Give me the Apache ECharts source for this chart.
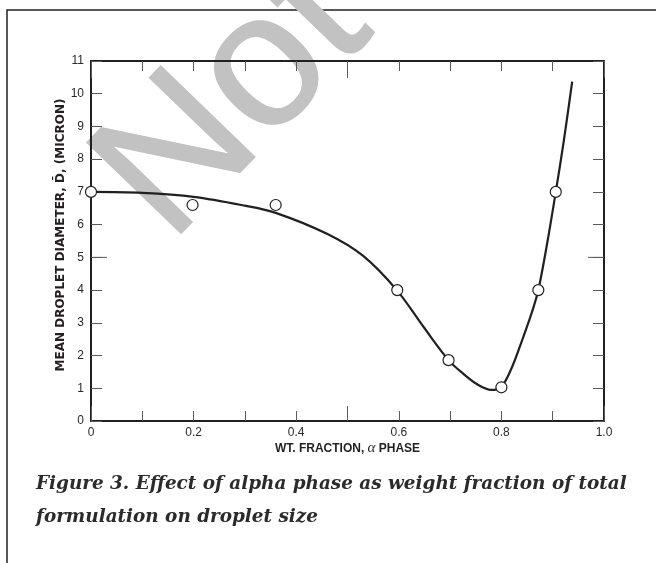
<!DOCTYPE html>
<html>
<head>
<meta charset="utf-8">
<script src="https://cdn.jsdelivr.net/npm/echarts@6/dist/echarts.min.js"></script>
<style>
html,body{margin:0;padding:0;background:#fff;}
#chart{width:656px;height:563px;}
</style>
</head>
<body>
<div id="chart"></div>
<script>
// Measured data points (open circles)
var pointX = [0, 0.198, 0.36, 0.597, 0.697, 0.8, 0.872, 0.906];
var pointY = [7.0, 6.6, 6.6, 4.0, 1.86, 1.03, 4.0, 7.0];
// Fitted curve
var curveX = [0, 0.1, 0.2, 0.3, 0.36, 0.46, 0.53, 0.596, 0.648, 0.697, 0.726, 0.755, 0.78, 0.8, 0.82, 0.84, 0.86, 0.872, 0.89, 0.906, 0.922, 0.938];
var curveY = [7.0, 6.97, 6.85, 6.58, 6.36, 5.72, 5.05, 4.0, 2.88, 1.86, 1.44, 1.1, 0.95, 1.05, 1.62, 2.45, 3.35, 4.0, 5.5, 7.0, 8.6, 10.37];
// Axis ticks
var xLabelValues = [0, 0.2, 0.4, 0.6, 0.8, 1.0];
var xTickLabels = ['0', '0.2', '0.4', '0.6', '0.8', '1.0'];
var yTickLabels = ['0','1','2','3','4','5','6','7','8','9','10','11'];
var yLongTicks = [5];
var xTitle = 'WT. FRACTION, ';
var yTitle = 'MEAN DROPLET DIAMETER, D\u0304, (MICRON)';
var captionLines = ['Figure 3. Effect of alpha phase as weight fraction of total', 'formulation on droplet size'];

var chart = echarts.init(document.getElementById('chart'), null, {renderer: 'canvas'});
var ink = '#231f20';
var tickCol = '#5a5a5a';
var sans = 'Liberation Sans, Arial, sans-serif';

function pairs(xs, ys) { return xs.map(function (x, i) { return [x, ys[i]]; }); }

var frameLine = {show: true, onZero: false, lineStyle: {color: ink, width: 2}};

var option = {
  animation: false,
  backgroundColor: '#fff',
  grid: {left: 91, top: 61, right: 52, bottom: 142, containLabel: false, outerBoundsMode: 'none'},
  xAxis: [
    {
      type: 'value', position: 'bottom', min: 0, max: 1, interval: 0.5,
      axisLine: frameLine, splitLine: {show: false},
      axisTick: {show: true, inside: true, length: 15, lineStyle: {color: tickCol, width: 1}},
      minorTick: {show: true, splitNumber: 5, length: 10, lineStyle: {color: tickCol, width: 1}},
      axisLabel: {show: true, margin: 6, fontFamily: sans, fontSize: 12, color: '#2a2a2a',
        customValues: xLabelValues,
        formatter: function (v) {
          var k = xLabelValues.findIndex(function (q) { return Math.abs(q - v) < 1e-6; });
          return k >= 0 ? xTickLabels[k] : '';
        }},
      name: '{t|' + xTitle + '}{a|\u03b1}{t| PHASE}', nameLocation: 'middle', nameGap: 20,
      nameMoveOverlap: false,
      nameTextStyle: {rich: {
        t: {fontFamily: sans, fontWeight: 'bold', fontSize: 12, color: ink},
        a: {fontFamily: 'Liberation Serif, serif', fontStyle: 'italic', fontSize: 15, color: ink}
      }}
    },
    {
      type: 'value', position: 'top', min: 0, max: 1, interval: 0.5,
      axisLine: frameLine, splitLine: {show: false}, axisLabel: {show: false},
      axisTick: {show: true, inside: true, length: 17, lineStyle: {color: tickCol, width: 1}},
      minorTick: {show: true, splitNumber: 5, length: 10, lineStyle: {color: tickCol, width: 1}}
    }
  ],
  yAxis: [
    {
      type: 'value', position: 'left', min: 0, max: 11, interval: 1,
      axisLine: frameLine, splitLine: {show: false},
      axisTick: {show: true, inside: true, length: 11, lineStyle: {color: tickCol, width: 1}},
      axisLabel: {show: true, margin: 7, fontFamily: sans, fontSize: 12, color: '#2a2a2a',
        formatter: function (v, i) { return yTickLabels[i]; }},
      name: yTitle, nameLocation: 'middle', nameGap: 24, nameMoveOverlap: false,
      nameTextStyle: {fontFamily: 'DejaVu Sans, ' + sans, fontWeight: 'bold', fontSize: 12, color: ink,
        padding: [0, 0, 0, 12]}
    },
    {
      type: 'value', position: 'right', min: 0, max: 11, interval: 1,
      axisLine: frameLine, splitLine: {show: false}, axisLabel: {show: false},
      axisTick: {show: true, inside: true, length: 11, lineStyle: {color: tickCol, width: 1}}
    }
  ],
  graphic: [
    {type: 'rect', z: -10, silent: true, shape: {x: 7, y: 10, width: 700, height: 600},
     style: {fill: 'none', stroke: ink, lineWidth: 1.5}},
    {type: 'text', z: -5, silent: true, x: 201, y: 274, rotation: 46 * Math.PI / 180,
     style: {text: 'Not', fontFamily: sans, fontSize: 190, fill: '#c2c2c2', stroke: '#c2c2c2', lineWidth: 1.5,
       textAlign: 'left', textVerticalAlign: 'bottom'}},
    {type: 'text', silent: true, x: 36, y: 484,
     style: {text: captionLines[0], fontFamily: 'DejaVu Serif, serif', fontStyle: 'italic', fontWeight: 'bold',
       fontSize: 18.4, fill: '#2b2b2b', textAlign: 'left', textVerticalAlign: 'middle'}},
    {type: 'text', silent: true, x: 36, y: 517,
     style: {text: captionLines[1], fontFamily: 'DejaVu Serif, serif', fontStyle: 'italic', fontWeight: 'bold',
       fontSize: 18.4, fill: '#2b2b2b', textAlign: 'left', textVerticalAlign: 'middle'}}
  ],
  series: [
    {type: 'custom', xAxisIndex: 0, yAxisIndex: 0, silent: true, clip: false, z: 1,
     data: yLongTicks.map(function (v) { return [0, v]; }),
     renderItem: function (params, api) {
       var y = api.value(1);
       var pl = api.coord([0, y]);
       var pr = api.coord([1, y]);
       var st = {stroke: tickCol, lineWidth: 1};
       return {type: 'group', children: [
         {type: 'line', shape: {x1: pl[0], y1: pl[1], x2: pl[0] + 16, y2: pl[1]}, style: st},
         {type: 'line', shape: {x1: pr[0] - 16, y1: pr[1], x2: pr[0], y2: pr[1]}, style: st}
       ]};
     }},
    {type: 'line', xAxisIndex: 0, yAxisIndex: 0, data: pairs(curveX, curveY), smooth: 0.35,
     showSymbol: false, symbol: 'none', lineStyle: {color: ink, width: 2.2}, clip: false, z: 2},
    {type: 'scatter', xAxisIndex: 0, yAxisIndex: 0, data: pairs(pointX, pointY), symbol: 'circle', symbolSize: 11,
     itemStyle: {color: '#ffffff', borderColor: ink, borderWidth: 1.2, opacity: 1}, clip: false, z: 3}
  ]
};
chart.setOption(option);
</script>
</body>
</html>
